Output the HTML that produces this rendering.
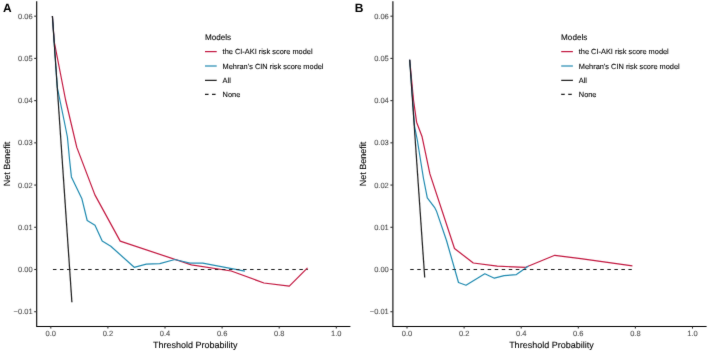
<!DOCTYPE html>
<html><head><meta charset="utf-8"><style>
html,body{margin:0;padding:0;background:#fff;width:708px;height:351px;overflow:hidden}
svg{display:block;will-change:transform}
text{font-family:"Liberation Sans",sans-serif;text-rendering:geometricPrecision}
.lab{font-weight:bold;font-size:12px;fill:#000}
.ax{fill:none;stroke:#000;stroke-width:1.1}
.tk{fill:none;stroke:#333;stroke-width:1.1}
.tl{font-size:7.5px;fill:#4d4d4d;stroke:#4d4d4d;stroke-width:0.1px}
.tt{font-size:9px;fill:#000;stroke:#000;stroke-width:0.1px}
.lt{font-size:8.15px;fill:#000;stroke:#000;stroke-width:0.1px}
.lg{font-size:7.4px;fill:#000;stroke:#000;stroke-width:0.1px}
.ln{fill:none;stroke-width:1.2;stroke-linejoin:round}
.dash{stroke-dasharray:3.52 3.52;stroke-width:1.1px}
</style></head><body>
<svg width="708" height="351" viewBox="0 0 708 351">
<defs><filter id="soft" filterUnits="userSpaceOnUse" x="0" y="0" width="708" height="351"><feConvolveMatrix order="3" kernelMatrix="0.01 0.06 0.01 0.06 0.72 0.06 0.01 0.06 0.01" edgeMode="none" preserveAlpha="false"/></filter></defs>
<rect width="708" height="351" fill="#fff"/>
<g filter="url(#soft)">
<text x="3" y="12.3" class="lab">A</text>
<path d="M36.7,1.3V326.5H350.4" class="ax"/>
<path d="M34.2,311.72H36.7" class="tk"/>
<text x="32.6" y="314.32" class="tl" text-anchor="end">−0.01</text>
<path d="M34.2,269.5H36.7" class="tk"/>
<text x="32.6" y="272.1" class="tl" text-anchor="end">0.00</text>
<path d="M34.2,227.28H36.7" class="tk"/>
<text x="32.6" y="229.88" class="tl" text-anchor="end">0.01</text>
<path d="M34.2,185.06H36.7" class="tk"/>
<text x="32.6" y="187.66" class="tl" text-anchor="end">0.02</text>
<path d="M34.2,142.84H36.7" class="tk"/>
<text x="32.6" y="145.44" class="tl" text-anchor="end">0.03</text>
<path d="M34.2,100.62H36.7" class="tk"/>
<text x="32.6" y="103.22" class="tl" text-anchor="end">0.04</text>
<path d="M34.2,58.4H36.7" class="tk"/>
<text x="32.6" y="61" class="tl" text-anchor="end">0.05</text>
<path d="M34.2,16.18H36.7" class="tk"/>
<text x="32.6" y="18.78" class="tl" text-anchor="end">0.06</text>
<path d="M50.8,326.5V328.6" class="tk"/>
<text x="50.8" y="335.6" class="tl" text-anchor="middle">0.0</text>
<path d="M107.9,326.5V328.6" class="tk"/>
<text x="107.9" y="335.6" class="tl" text-anchor="middle">0.2</text>
<path d="M165,326.5V328.6" class="tk"/>
<text x="165" y="335.6" class="tl" text-anchor="middle">0.4</text>
<path d="M222.1,326.5V328.6" class="tk"/>
<text x="222.1" y="335.6" class="tl" text-anchor="middle">0.6</text>
<path d="M279.2,326.5V328.6" class="tk"/>
<text x="279.2" y="335.6" class="tl" text-anchor="middle">0.8</text>
<path d="M336.3,326.5V328.6" class="tk"/>
<text x="336.3" y="335.6" class="tl" text-anchor="middle">1.0</text>
<text x="195.2" y="347.6" class="tt" text-anchor="middle">Threshold Probability</text>
<text transform="translate(10.4,164.1) rotate(-90)" class="tt" text-anchor="middle">Net Benefit</text>
<polyline points="52.4,16 54.2,41.5 65.6,100 76.8,147.4 94.9,194.9 120.2,241.1 191.4,264.9 231.2,271 263.9,283 289.3,286.1 307.5,267.8" class="ln" stroke="#C2163F"/>
<polyline points="52.4,16 57.3,87.5 64,120 67.4,137 69.6,160 71.4,176.9 81.9,198.8 87.2,220.5 95,225.3 102.2,241 110.8,246.2 134.2,267.3 146.3,264.2 159.8,263.7 174.8,259.5 189.9,263.1 202.7,263.1 244.9,271.2" class="ln" stroke="#1F8AB0"/>
<polyline points="52.4,16 71.9,302.2" class="ln" stroke="#1a1a1a"/>
<path d="M52.94,269.5H307.8" class="ln dash" stroke="#1a1a1a"/>
<text x="204.9" y="39.8" class="lt">Models</text>
<path d="M205,51.6H216.7" class="ln " stroke="#C2163F"/>
<text x="222.6" y="54.3" class="lg">the CI-AKI risk score model</text>
<path d="M205,66H216.7" class="ln " stroke="#1F8AB0"/>
<text x="222.6" y="68.5" class="lg">Mehran’s CIN risk score model</text>
<path d="M205,80.35H216.7" class="ln " stroke="#1a1a1a"/>
<text x="222.6" y="82.7" class="lg">All</text>
<path d="M205,94.4H216.7" class="ln dash" stroke="#1a1a1a"/>
<text x="222.6" y="96.9" class="lg">None</text>
<text x="354.8" y="12.3" class="lab">B</text>
<path d="M392.9,1.3V326.5H706.6" class="ax"/>
<path d="M390.4,311.72H392.9" class="tk"/>
<text x="388.8" y="314.32" class="tl" text-anchor="end">−0.01</text>
<path d="M390.4,269.5H392.9" class="tk"/>
<text x="388.8" y="272.1" class="tl" text-anchor="end">0.00</text>
<path d="M390.4,227.28H392.9" class="tk"/>
<text x="388.8" y="229.88" class="tl" text-anchor="end">0.01</text>
<path d="M390.4,185.06H392.9" class="tk"/>
<text x="388.8" y="187.66" class="tl" text-anchor="end">0.02</text>
<path d="M390.4,142.84H392.9" class="tk"/>
<text x="388.8" y="145.44" class="tl" text-anchor="end">0.03</text>
<path d="M390.4,100.62H392.9" class="tk"/>
<text x="388.8" y="103.22" class="tl" text-anchor="end">0.04</text>
<path d="M390.4,58.4H392.9" class="tk"/>
<text x="388.8" y="61" class="tl" text-anchor="end">0.05</text>
<path d="M390.4,16.18H392.9" class="tk"/>
<text x="388.8" y="18.78" class="tl" text-anchor="end">0.06</text>
<path d="M407,326.5V328.6" class="tk"/>
<text x="407" y="335.6" class="tl" text-anchor="middle">0.0</text>
<path d="M464.1,326.5V328.6" class="tk"/>
<text x="464.1" y="335.6" class="tl" text-anchor="middle">0.2</text>
<path d="M521.2,326.5V328.6" class="tk"/>
<text x="521.2" y="335.6" class="tl" text-anchor="middle">0.4</text>
<path d="M578.3,326.5V328.6" class="tk"/>
<text x="578.3" y="335.6" class="tl" text-anchor="middle">0.6</text>
<path d="M635.4,326.5V328.6" class="tk"/>
<text x="635.4" y="335.6" class="tl" text-anchor="middle">0.8</text>
<path d="M692.5,326.5V328.6" class="tk"/>
<text x="692.5" y="335.6" class="tl" text-anchor="middle">1.0</text>
<text x="551.4" y="347.6" class="tt" text-anchor="middle">Threshold Probability</text>
<text transform="translate(366.2,164.1) rotate(-90)" class="tt" text-anchor="middle">Net Benefit</text>
<polyline points="409.7,59.8 413.5,100 416.6,122.2 422.1,136.8 429.9,173.9 454.5,248.5 473.3,263 497.3,266.2 525.7,267.3 554.8,255.3 580.7,258.6 632.4,265.9" class="ln" stroke="#C2163F"/>
<polyline points="409.7,59.8 414.6,126.5 417.3,140 423.4,178 427.3,197.8 434.9,207.9 436.4,210.9 446.5,240.5 458.5,282.5 466,285.2 484.8,273.8 494.4,278.2 504.1,275.6 516.4,274.6 528.5,266" class="ln" stroke="#1F8AB0"/>
<polyline points="409.7,59.8 424.7,277.5" class="ln" stroke="#1a1a1a"/>
<path d="M410.2,269.5H631.8" class="ln dash" stroke="#1a1a1a"/>
<text x="561.1" y="39.8" class="lt">Models</text>
<path d="M561.2,51.6H572.9" class="ln " stroke="#C2163F"/>
<text x="578.8" y="54.3" class="lg">the CI-AKI risk score model</text>
<path d="M561.2,66H572.9" class="ln " stroke="#1F8AB0"/>
<text x="578.8" y="68.5" class="lg">Mehran’s CIN risk score model</text>
<path d="M561.2,80.35H572.9" class="ln " stroke="#1a1a1a"/>
<text x="578.8" y="82.7" class="lg">All</text>
<path d="M561.2,94.4H572.9" class="ln dash" stroke="#1a1a1a"/>
<text x="578.8" y="96.9" class="lg">None</text>
</g>
</svg>
</body></html>
